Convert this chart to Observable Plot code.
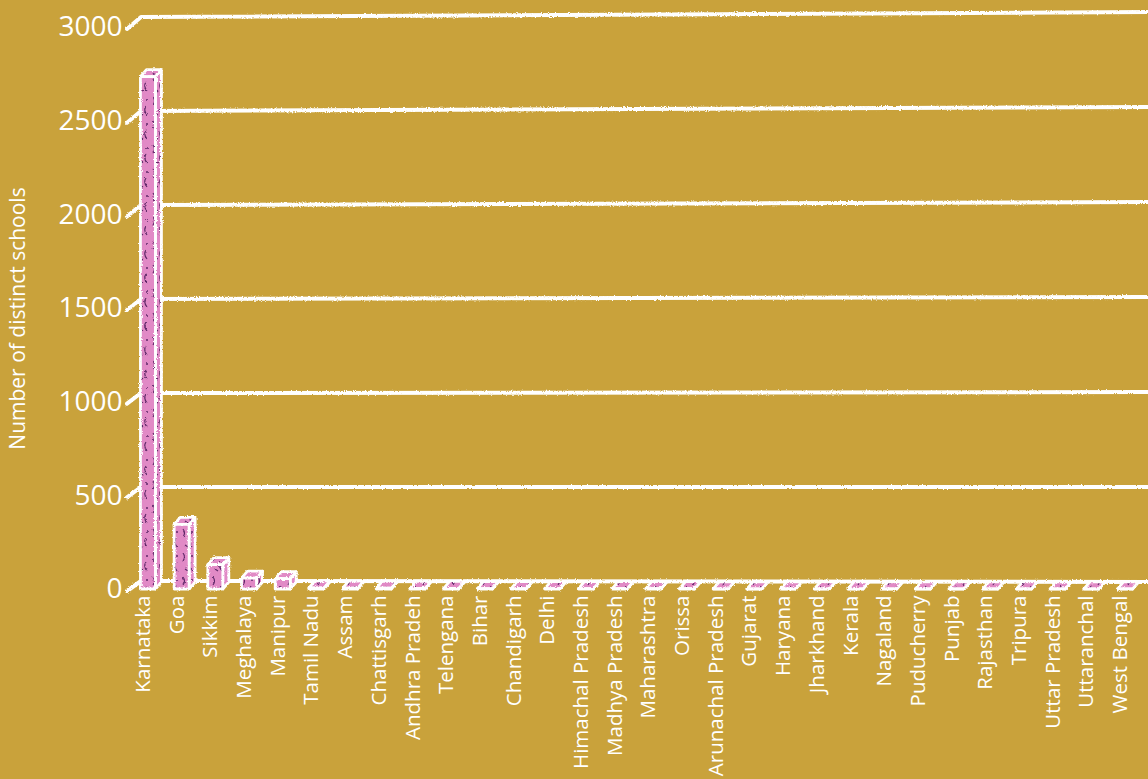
<!DOCTYPE html>
<html><head><meta charset="utf-8">
<script src="https://cdn.jsdelivr.net/npm/d3@7"></script>
<script src="https://cdn.jsdelivr.net/npm/@observablehq/plot@0.6"></script>
<style>
html,body{margin:0;padding:0;background:#C9A23B;}
#chart{width:1148px;height:779px;position:relative;}
#chart svg{position:absolute;left:0;top:0;}
</style></head><body><div id="chart"></div>
<script>
const states = ["Karnataka","Goa","Sikkim","Meghalaya","Manipur","Tamil Nadu","Assam","Chattisgarh","Andhra Pradeh","Telengana","Bihar","Chandigarh","Delhi","Himachal Pradesh","Madhya Pradesh","Maharashtra","Orissa","Arunachal Pradesh","Gujarat","Haryana","Jharkhand","Kerala","Nagaland","Puducherry","Punjab","Rajasthan","Tripura","Uttar Pradesh","Uttaranchal","West Bengal"];
const schools = [2735,345,130,58,55,6,5,4,3,3,2,2,2,2,2,2,2,1,1,1,1,1,1,1,1,1,1,1,1,1];
const yTicks = [0,500,1000,1500,2000,2500,3000];
const yLabel = "Number of distinct schools";

const data = states.map((s,i)=>({state:s, schools:schools[i]}));
const DX = 6, DY = -7;
const W = 1148, H = 779;

function grid(index, scales, values, dims) {
  const y = scales.y;
  const g = d3.create("svg:g").attr("filter","url(#rough)")
    .attr("fill","none").attr("stroke","white").attr("stroke-width",4)
    .attr("stroke-linejoin","round").attr("stroke-linecap","round");
  for (const t of yTicks) {
    const yy = y(t);
    const offL = -8 - 2*t/3000, offR = -7 - 8*t/3000;
    g.append("path").attr("d", `M127,${yy+2}L141,${yy+offL}L${dims.width+5},${yy+offR}`);
  }
  return g.node();
}

function faces(index, scales) {
  const x = scales.x, y = scales.y;
  const bw = x.bandwidth();
  const g = d3.create("svg:g").attr("filter","url(#rough)")
    .attr("fill","url(#pinkfill)").attr("stroke","white").attr("stroke-width",2.8)
    .attr("stroke-linejoin","round");
  for (const d of data) {
    const x0 = x(d.state), x1 = x0 + bw, yt = y(d.schools), yb = y(0);
    g.append("path").attr("d", `M${x1},${yt}L${x1+DX},${yt+DY}L${x1+DX},${yb+DY}L${x1},${yb}Z`);
    g.append("path").attr("d", `M${x0},${yt}L${x1},${yt}L${x1+DX},${yt+DY}L${x0+DX},${yt+DY}Z`);
  }
  return g.node();
}

const plot = Plot.plot({
  width: W, height: H,
  marginLeft: 131, marginRight: 6, marginTop: 27, marginBottom: 190,
  style: {background: "transparent", color: "white", fontFamily: "'Open Sans', sans-serif"},
  x: {domain: states, paddingInner: 0.555, paddingOuter: 0.28, round: false, label: null},
  y: {domain: [0, 3000], label: null},
  marks: [
    grid,
    Plot.axisY({ticks: yTicks, tickFormat: d => String(d), tickSize: 0, tickPadding: 9, fontSize: 28, label: null, fill: "white"}),
    Plot.axisX({tickRotate: -90, tickSize: 0, tickPadding: 6, fontSize: 20.5, label: null, fill: "white", dx: -5}),
    Plot.text([yLabel], {frameAnchor: "left", textAnchor: "middle", rotate: -90, dx: -113, dy: 10, fontSize: 21, fill: "white", text: d => d}),
    faces,
    Plot.barY(data, {x: "state", y: "schools", fill: "url(#pinkfill)", stroke: "white", strokeWidth: 2.8, strokeLinejoin: "round"})
  ]
});

const defs = d3.select(plot).insert("defs", ":first-child");
defs.html(`
<filter id="rough" filterUnits="userSpaceOnUse" x="0" y="0" width="${W}" height="${H}">
  <feTurbulence type="fractalNoise" baseFrequency="0.8" numOctaves="2" seed="3" result="n"/>
  <feDisplacementMap in="SourceGraphic" in2="n" scale="2.8" xChannelSelector="R" yChannelSelector="G"/>
</filter>
<pattern id="pinkfill" patternUnits="userSpaceOnUse" width="15" height="24">
  <rect width="15" height="24" fill="#E18AC6"/>
  <path d="M3,1 q3,4 0,8" fill="none" stroke="#5E2768" stroke-width="1.2"/>
  <path d="M11,10 q-3,4 1,9" fill="none" stroke="#5E2768" stroke-width="1.2"/>
  <path d="M5,17 l3,2" fill="none" stroke="#5E2768" stroke-width="1.1"/>
  <circle cx="12" cy="4" r="1" fill="#5E2768"/>
</pattern>`);
d3.select(plot).selectAll('g[aria-label="bar"]').attr("filter","url(#rough)");
document.getElementById("chart").appendChild(plot);
</script></body></html>
